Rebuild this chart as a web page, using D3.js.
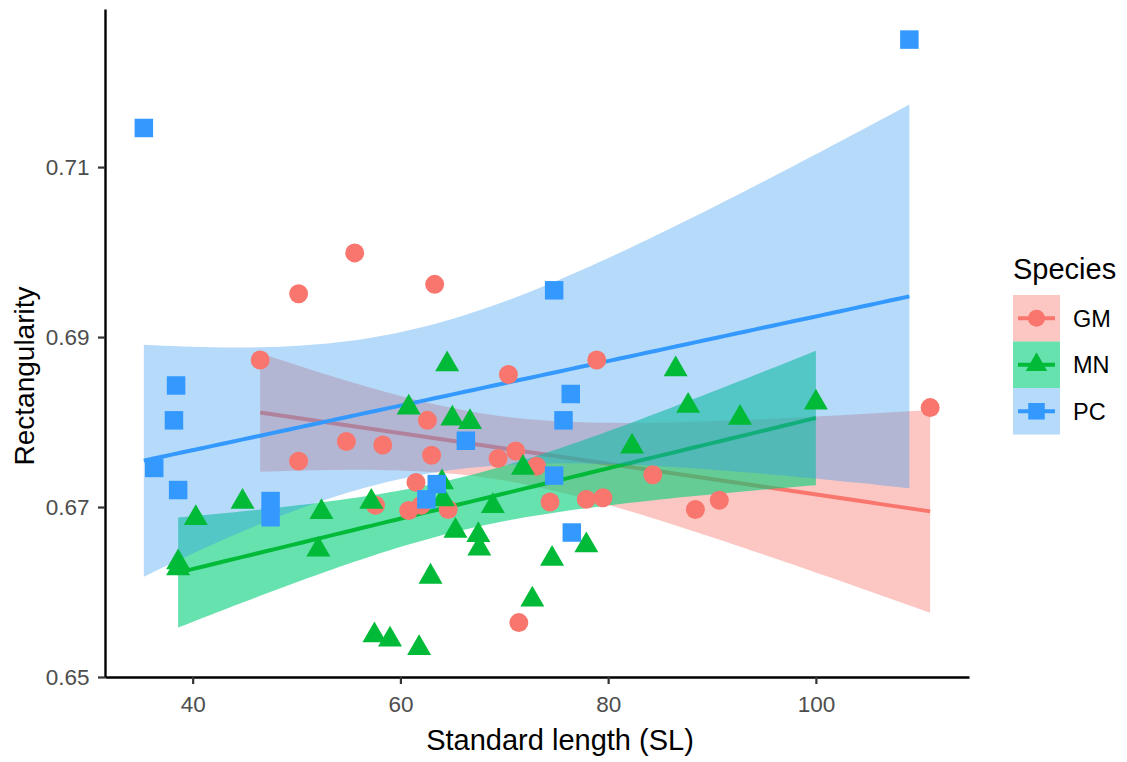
<!DOCTYPE html>
<html>
<head>
<meta charset="utf-8">
<script src="https://cdn.jsdelivr.net/npm/d3@7"></script>
<style>
  body { margin: 0; background: #ffffff; }
  text { font-family: "Liberation Sans", Arial, sans-serif; }
</style>
</head>
<body>
<svg id="chart" width="1127" height="762"></svg>
<script>
// ---- data: standard length (SL) and rectangularity per specimen ----
const speciesNames = ["GM", "MN", "PC"];

const gmSL   = [46.5, 50.2, 55.6, 50.2, 54.8, 58.3, 57.6, 63.3, 70.4, 78.9, 62.6, 63.0, 69.4, 71.1,
                73.1, 84.3, 61.5, 60.8, 62.0, 64.6, 74.4, 77.9, 79.5, 71.4, 111.0, 90.7, 88.4];
const gmRect = [0.6873, 0.6951, 0.6999, 0.6754, 0.6777, 0.6773, 0.6702, 0.6962, 0.6856, 0.6873, 0.6802, 0.6761, 0.6757, 0.6766,
                0.6748, 0.6738, 0.6729, 0.6696, 0.6702, 0.6697, 0.6706, 0.6709, 0.6711, 0.6564, 0.6817, 0.6708, 0.6697];

const mnSL   = [44.8, 40.3, 38.6, 38.6, 52.4, 52.1, 57.2, 57.5, 59.0, 61.8, 62.9, 65.3, 67.5, 67.6, 68.9,
                74.6, 72.7, 77.9, 71.8, 64.0, 64.1, 82.3, 64.5, 60.8, 65.0, 66.7, 86.5, 87.7, 92.7, 100.0];
const mnRect = [0.6706, 0.6687, 0.6635, 0.6628, 0.6694, 0.6650, 0.6706, 0.6549, 0.6544, 0.6534, 0.6618, 0.6672, 0.6667, 0.6651, 0.6701,
                0.6639, 0.6591, 0.6655, 0.6746, 0.6729, 0.6709, 0.6771, 0.6868, 0.6817, 0.6804, 0.6800, 0.6862, 0.6819, 0.6805, 0.6823];

const pcSL   = [35.3, 109.0, 38.4, 38.2, 36.3, 38.6, 47.5, 47.5, 66.3, 74.8, 76.4, 75.7, 63.5, 62.5, 74.8, 76.5];
const pcRect = [0.7146, 0.7250, 0.6843, 0.6802, 0.6746, 0.6720, 0.6707, 0.6688, 0.6778, 0.6955, 0.6833, 0.6802, 0.6727, 0.6709, 0.6737, 0.6670];

const xTicks = [40, 60, 80, 100];
const yTicks = [0.65, 0.67, 0.69, 0.71];

// ---- styling ----
const pointColor = { GM: "#F8766D", MN: "#00BA38", PC: "#3399FF" };
const bandFill   = { GM: "#F8766D", MN: "#00CF78", PC: "#3399F0" };
const bandAlpha  = { GM: 0.41, MN: 0.60, PC: 0.36 };
const symbolType = { GM: d3.symbolCircle, MN: d3.symbolTriangle, PC: d3.symbolSquare };
const symbolSize = { GM: 283, MN: 249, PC: 342 };

const groups = [
  { name: "GM", xs: gmSL, ys: gmRect },
  { name: "MN", xs: mnSL, ys: mnRect },
  { name: "PC", xs: pcSL, ys: pcRect }
];

const svg = d3.select("#chart");
const panel = { left: 105, right: 969, top: 9, bottom: 677 };

const x = d3.scaleLinear().domain([31.56, 114.74]).range([panel.left, panel.right]);
const y = d3.scaleLinear().domain([0.6500, 0.7286]).range([panel.bottom, panel.top]);

// Student t quantile (Cornish-Fisher expansion around the normal quantile)
function tQuantile975(df) {
  const z = 1.959964;
  const z3 = z ** 3, z5 = z ** 5, z7 = z ** 7, z9 = z ** 9;
  const g1 = (z3 + z) / 4;
  const g2 = (5 * z5 + 16 * z3 + 3 * z) / 96;
  const g3 = (3 * z7 + 19 * z5 + 17 * z3 - 15 * z) / 384;
  const g4 = (79 * z9 + 776 * z7 + 1482 * z5 - 1920 * z3 - 945 * z) / 92160;
  return z + g1 / df + g2 / df ** 2 + g3 / df ** 3 + g4 / df ** 4;
}

// ordinary least squares fit with a 95% confidence band on the mean
function linearFit(xs, ys, nOut = 80) {
  const n = xs.length;
  const mx = d3.mean(xs), my = d3.mean(ys);
  let sxx = 0, sxy = 0;
  for (let i = 0; i < n; i++) { sxx += (xs[i] - mx) ** 2; sxy += (xs[i] - mx) * (ys[i] - my); }
  const b = sxy / sxx, a = my - b * mx;
  let sse = 0;
  for (let i = 0; i < n; i++) sse += (ys[i] - (a + b * xs[i])) ** 2;
  const s = Math.sqrt(sse / (n - 2));
  const t = tQuantile975(n - 2);
  const [lo, hi] = d3.extent(xs);
  return d3.range(nOut).map(i => {
    const xv = lo + (hi - lo) * i / (nOut - 1);
    const fit = a + b * xv;
    const se = s * Math.sqrt(1 / n + (xv - mx) ** 2 / sxx);
    return { x: xv, fit, ymin: fit - t * se, ymax: fit + t * se };
  });
}

const area = d3.area().x(d => x(d.x)).y0(d => y(d.ymin)).y1(d => y(d.ymax));
const line = d3.line().x(d => x(d.x)).y(d => y(d.fit));

// smoothers: band then line, per species
const smoothLayer = svg.append("g");
groups.forEach(g => {
  const fit = linearFit(g.xs, g.ys);
  smoothLayer.append("path").datum(fit)
    .attr("d", area)
    .attr("fill", bandFill[g.name])
    .attr("fill-opacity", bandAlpha[g.name]);
  smoothLayer.append("path").datum(fit)
    .attr("d", line)
    .attr("fill", "none")
    .attr("stroke", pointColor[g.name])
    .attr("stroke-width", 4);
});

// points
const pointLayer = svg.append("g");
groups.forEach(g => {
  const sym = d3.symbol().type(symbolType[g.name]).size(symbolSize[g.name]);
  pointLayer.selectAll(null)
    .data(g.xs.map((xv, i) => [xv, g.ys[i]]))
    .join("path")
    .attr("transform", d => `translate(${x(d[0])},${y(d[1])})`)
    .attr("d", sym)
    .attr("fill", pointColor[g.name]);
});

// axes
const xAxis = svg.append("g")
  .attr("transform", `translate(0,${panel.bottom})`)
  .call(d3.axisBottom(x).tickValues(xTicks).tickFormat(d3.format("d"))
        .tickSize(7).tickSizeOuter(0).tickPadding(12));
const yAxis = svg.append("g")
  .attr("transform", `translate(${panel.left},0)`)
  .call(d3.axisLeft(y).tickValues(yTicks).tickFormat(d3.format(".2f"))
        .tickSize(7).tickSizeOuter(0).tickPadding(8.5));

[xAxis, yAxis].forEach(ax => {
  ax.select(".domain").attr("stroke", "#000").attr("stroke-width", 2.4);
  ax.selectAll(".tick line").attr("stroke", "#333333").attr("stroke-width", 2.2);
  ax.selectAll(".tick text").attr("fill", "#4D4D4D").attr("font-size", 22.5)
    .style("font-family", '"Liberation Sans", Arial, sans-serif');
});

// axis titles
svg.append("text")
  .attr("x", 560).attr("y", 750)
  .attr("text-anchor", "middle")
  .attr("font-size", 29)
  .attr("fill", "#000")
  .text("Standard length (SL)");

svg.append("text")
  .attr("transform", "translate(34,376) rotate(-90)")
  .attr("text-anchor", "middle")
  .attr("font-size", 28)
  .attr("fill", "#000")
  .text("Rectangularity");

// legend
const legend = svg.append("g").attr("transform", "translate(1013,0)");
legend.append("text")
  .attr("x", 0).attr("y", 279)
  .attr("font-size", 29)
  .attr("fill", "#000")
  .text("Species");

const keyW = 47, keyH = 46.5, keyTop = 295;
speciesNames.forEach((name, i) => {
  const k = legend.append("g").attr("transform", `translate(0,${keyTop + i * keyH})`);
  k.append("rect")
    .attr("width", keyW).attr("height", keyH)
    .attr("fill", bandFill[name]).attr("fill-opacity", bandAlpha[name]);
  k.append("line")
    .attr("x1", 5).attr("x2", keyW - 5)
    .attr("y1", keyH / 2).attr("y2", keyH / 2)
    .attr("stroke", pointColor[name]).attr("stroke-width", 4);
  k.append("path")
    .attr("transform", `translate(${keyW / 2},${keyH / 2})`)
    .attr("d", d3.symbol().type(symbolType[name]).size(symbolSize[name] * 0.8)())
    .attr("fill", pointColor[name]);
  k.append("text")
    .attr("x", 60).attr("y", keyH / 2 + 8.3)
    .attr("font-size", 23.5)
    .attr("fill", "#000")
    .text(name);
});
</script>
</body>
</html>
